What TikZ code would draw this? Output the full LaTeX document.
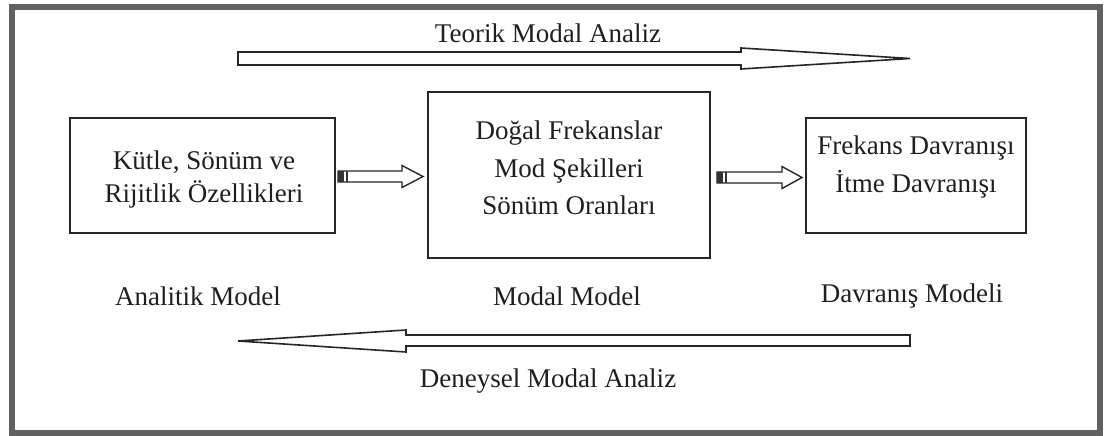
\documentclass[tikz,border=0pt]{standalone}
\usepackage{fontspec}
\setmainfont{Liberation Serif}
\usetikzlibrary{calc}
\tikzset{
  every node/.style={inner sep=0pt, outer sep=0pt},
  frame/.style={draw=black!62, line width=6pt},
  box/.style={draw=black!85, line width=1.6pt},
  txt/.style={font=\fontsize{27}{30}\selectfont, text=black!88, align=center},
  bigarrow/.style={draw=black!85, line width=1.6pt, line join=miter, fill=white},
  smallarrow/.style={draw=black!85, line width=1.4pt, line join=miter, fill=white},
  stub/.style={fill=black!80}
}
\begin{document}
\begin{tikzpicture}[x=1pt,y=-1pt]
\useasboundingbox (0,0) rectangle (1105,436);
\draw[frame] (11.5,7) rectangle (1100,433);

% boxes
\node[box, minimum width=265pt, minimum height=115pt] (ana) at (202.5,175.5) {};
\node[box, minimum width=282pt, minimum height=166pt] (mod) at (569,175) {};
\node[box, minimum width=220pt, minimum height=115pt] (dav) at (916,175.5) {};

% box texts
\node[txt, font=\fontsize{27}{33}\selectfont] (anat) at (204,180) {Kütle, Sönüm ve\\Rijitlik Özellikleri};
\node[txt, font=\fontsize{27}{37.5}\selectfont] (modt) at (569,168) {Doğal Frekanslar\\Mod Şekilleri\\Sönüm Oranları};
\node[txt, font=\fontsize{27}{38}\selectfont] (davt) at (916,167) {Frekans Davranışı\\İtme Davranışı};

% labels
\node[txt] (anal) at (198,296) {Analitik Model};
\node[txt] (modl) at (567,296) {Modal Model};
\node[txt] (davl) at (912,296) {Davranış Modeli};
\node[txt] (teo) at (548,33) {Teorik Modal Analiz};
\node[txt] (den) at (548,381) {Deneysel Modal Analiz};

% small block arrows between boxes
\coordinate (s1) at ($(ana.east)+(3,1)$);
\coordinate (s2) at ($(mod.east)+(7,2.5)$);
\draw[smallarrow] (s1) ++(0,-5.5) -- ++(64,0) -- ++(0,-5.5) -- ++(21,11) -- ++(-21,11) -- ++(0,-5.5) -- ++(-64,0) -- cycle;
\fill[stub] (s1) ++(0,-5.5) rectangle ++(6,11);
\fill[stub] ($(s1)+(8,-5.5)$) rectangle ++(1.5,11);
\draw[smallarrow] (s2) ++(0,-5.5) -- ++(65,0) -- ++(0,-5.5) -- ++(20,11) -- ++(-20,11) -- ++(0,-5.5) -- ++(-65,0) -- cycle;
\fill[stub] (s2) ++(0,-5.5) rectangle ++(6,11);
\fill[stub] ($(s2)+(8,-5.5)$) rectangle ++(1.5,11);

% big arrows
\coordinate (t0) at (238,58.5);
\coordinate (t1) at (910,58.5);
\draw[bigarrow] ($(t0)+(0,-6.5)$) -- (741,52) -- (741,48) -- (t1) -- (741,69) -- (741,65) -- ($(t0)+(0,6.5)$) -- cycle;
\coordinate (b0) at (910,340.5);
\coordinate (b1) at (238,341);
\draw[bigarrow] ($(b0)+(0,-5.5)$) -- (406,335) -- (406,330) -- (b1) -- (406,352) -- (406,346) -- ($(b0)+(0,5.5)$) -- cycle;
\end{tikzpicture}
\end{document}
